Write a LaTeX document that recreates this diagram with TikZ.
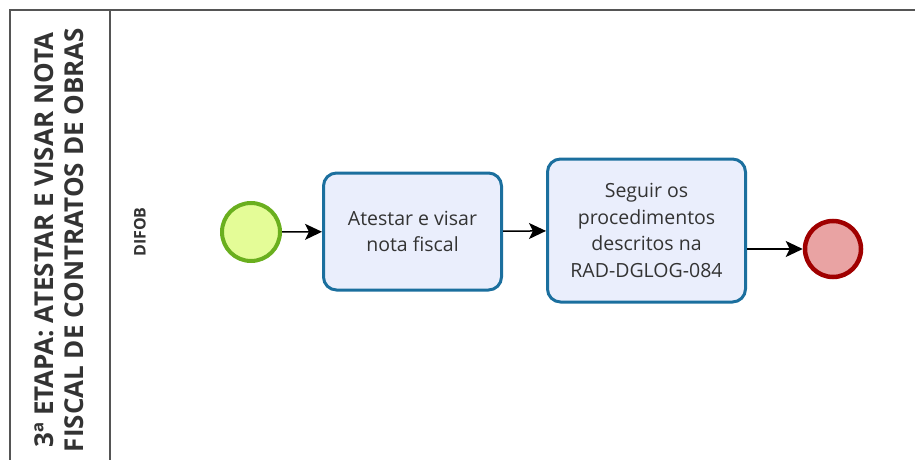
\documentclass[tikz,border=0pt]{standalone}
\usepackage{fontspec}
\setmainfont{Open Sans}
\usetikzlibrary{arrows.meta,positioning}

\definecolor{lanegray}{HTML}{555555}
\definecolor{taskblue}{HTML}{1B6F9E}
\definecolor{taskfill}{HTML}{EAEEFC}
\definecolor{textgray}{HTML}{333333}
\definecolor{startgreen}{HTML}{6AAF1E}
\definecolor{startfill}{HTML}{E4FC97}
\definecolor{endred}{HTML}{A00000}
\definecolor{endfill}{HTML}{E9A3A3}

\begin{document}
\begin{tikzpicture}[x=1pt, y=-1pt,
	task/.style={draw=taskblue, fill=taskfill, line width=3pt, rounded corners=13pt,
		align=center, text=textgray, font=\fontsize{19.5}{26.5}\selectfont},
	startev/.style={circle, draw=startgreen, fill=startfill, line width=4pt, minimum size=58pt},
	endev/.style={circle, draw=endred, fill=endfill, line width=4.5pt, minimum size=56pt},
	flow/.style={-{Stealth[length=17pt,width=16pt,inset=4pt]}, line width=1.5pt}]
\useasboundingbox (0,0) rectangle (915,460);
% pool and lane
\draw[lanegray, line width=1.5pt] (10,460) |- (915,10);
\draw[lanegray, line width=1.5pt] (110,10) -- (110,460);
\node[rotate=90, align=center, font=\bfseries\fontsize{26}{30}\selectfont, text=textgray] (etapa) at (59,240)
	{3ª ETAPA: ATESTAR E VISAR NOTA\\FISCAL DE CONTRATOS DE OBRAS};
\node[rotate=90, font=\bfseries\fontsize{16}{18}\selectfont, text=textgray] (difob) at (140,232) {DIFOB};
% flow
\node[startev] (inicio) at (251,232) {};
\node[task, minimum width=178pt, minimum height=117pt] (atestar) at (412.5,231.5)
	{Atestar e visar\\nota fiscal};
\node[task, minimum width=198pt, minimum height=143pt] (seguir) at (646.5,230.5)
	{Seguir os\\procedimentos\\descritos na\\RAD-DGLOG-084};
\node[endev] (fim) at (833,249) {};
\draw[flow] (inicio) -- (atestar);
\draw[flow] (atestar) -- (seguir);
\draw[flow] (seguir.east |- fim) -- (fim);
\end{tikzpicture}
\end{document}
